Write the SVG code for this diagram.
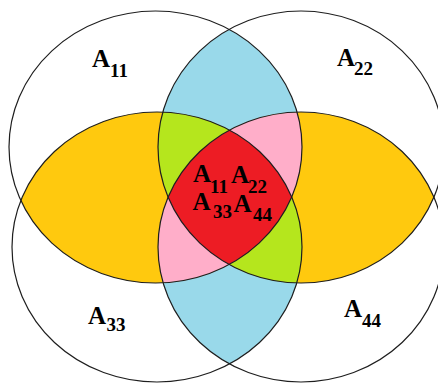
<svg xmlns="http://www.w3.org/2000/svg" width="438" height="383" viewBox="0 0 438 383">
<style>
.outline{fill:none;stroke:#1e1e1e;stroke-width:1.2}
.lbl{font-family:"Liberation Serif","Times New Roman",serif;font-weight:bold;font-size:25px;fill:#000}
.sub{font-size:19px}
.blue{fill:#99D9EA}
.yellow{fill:#FFC90E}
.green{fill:#B5E61D}
.pink{fill:#FFAEC9}
.red{fill:#ED1C24}
</style>
<defs>
<ellipse id="e11" cx="155.5" cy="147" rx="146.5" ry="136"/>
<ellipse id="e22" cx="301" cy="147" rx="143" ry="136"/>
<ellipse id="e33" cx="157" cy="247" rx="145" ry="135"/>
<ellipse id="e44" cx="301" cy="247" rx="143" ry="135"/>
<clipPath id="c11"><ellipse cx="155.5" cy="147" rx="146.5" ry="136"/></clipPath>
<clipPath id="c22"><ellipse cx="301" cy="147" rx="143" ry="136"/></clipPath>
<clipPath id="c33"><ellipse cx="157" cy="247" rx="145" ry="135"/></clipPath>
<clipPath id="c44"><ellipse cx="301" cy="247" rx="143" ry="135"/></clipPath>
</defs>
<rect width="438" height="383" fill="#fff"/>
<g id="regions">
  <g clip-path="url(#c11)"><use href="#e22" class="blue"/></g>
  <g clip-path="url(#c33)"><use href="#e44" class="blue"/></g>
  <g clip-path="url(#c11)"><use href="#e33" class="yellow"/></g>
  <g clip-path="url(#c22)"><use href="#e44" class="yellow"/></g>
  <g clip-path="url(#c11)"><g clip-path="url(#c22)"><use href="#e33" class="green"/></g></g>
  <g clip-path="url(#c22)"><g clip-path="url(#c33)"><use href="#e44" class="green"/></g></g>
  <g clip-path="url(#c11)"><g clip-path="url(#c22)"><use href="#e44" class="pink"/></g></g>
  <g clip-path="url(#c11)"><g clip-path="url(#c33)"><use href="#e44" class="pink"/></g></g>
  <g clip-path="url(#c11)"><g clip-path="url(#c22)"><g clip-path="url(#c33)"><use href="#e44" class="red"/></g></g></g>
</g>
<g id="A11">
  <use href="#e11" class="outline"/>
  <text class="lbl"><tspan x="92" y="67">A</tspan><tspan class="sub" x="110" y="77">11</tspan></text>
</g>
<g id="A22">
  <use href="#e22" class="outline"/>
  <text class="lbl"><tspan x="337" y="66">A</tspan><tspan class="sub" x="354" y="75">22</tspan></text>
</g>
<g id="A33">
  <use href="#e33" class="outline"/>
  <text class="lbl"><tspan x="88" y="324">A</tspan><tspan class="sub" x="106.5" y="330.5">33</tspan></text>
</g>
<g id="A44">
  <use href="#e44" class="outline"/>
  <text class="lbl"><tspan x="344" y="317">A</tspan><tspan class="sub" x="362" y="327">44</tspan></text>
</g>
<g id="center">
  <text class="lbl"><tspan x="193" y="182">A</tspan><tspan class="sub" x="210" y="193">11</tspan><tspan x="231" y="183">A</tspan><tspan class="sub" x="248" y="193">22</tspan></text>
  <text class="lbl"><tspan x="192.5" y="210">A</tspan><tspan class="sub" x="213" y="217.5">33</tspan><tspan x="233.5" y="212">A</tspan><tspan class="sub" x="253" y="221">44</tspan></text>
</g>
</svg>
